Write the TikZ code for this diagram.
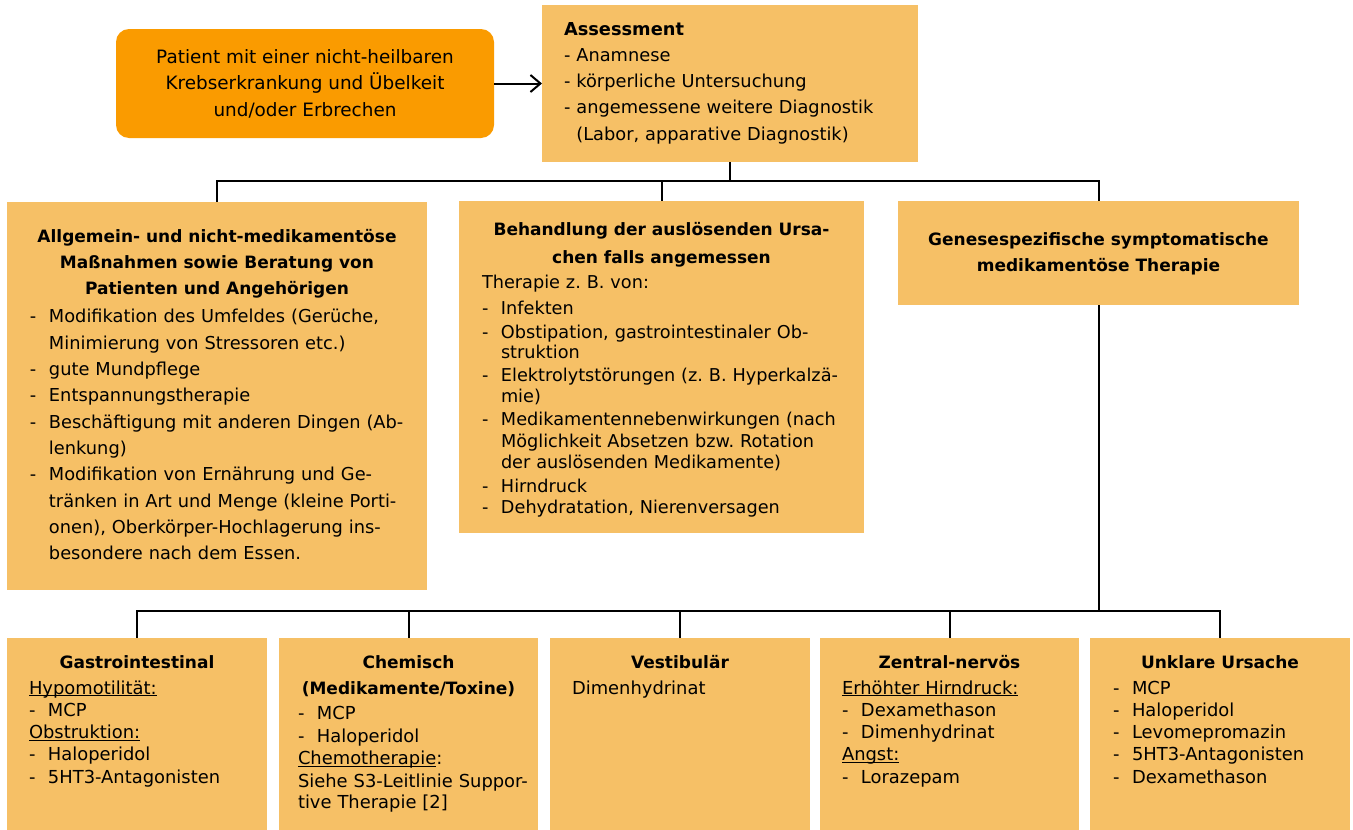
\documentclass[tikz,border=0pt]{standalone}
\usepackage{fontspec}
\setmainfont{DejaVu Sans}
\usepackage{tikz}
\usetikzlibrary{arrows.meta}
\definecolor{boxfill}{RGB}{246,192,102}
\definecolor{patientfill}{RGB}{250,155,0}
\frenchspacing

% title line, list item, continuation line, underlined heading
\newcommand{\ttl}[1]{\makebox[\linewidth][c]{\fontsize{17}{20}\selectfont\bfseries #1}}
\newcommand{\itm}[1]{\makebox[19pt][l]{-}\mbox{#1}}
\newcommand{\cnt}[1]{\hspace*{19pt}\mbox{#1}}
\newcommand{\ulx}[1]{\setbox0=\hbox{#1}\makebox[0pt][l]{\rule[-2.2pt]{\wd0}{0.9pt}}\box0}

\begin{document}
\begin{tikzpicture}[
    x=1pt, y=-1pt,
    cell/.style={fill=boxfill, inner ysep=0pt, outer sep=0pt, anchor=north west, align=left, font=\fontsize{17.8}{26.3}\selectfont},
    tight/.style={font=\fontsize{17.9}{22.3}\selectfont},
    bottom/.style={cell, tight, text height=30pt, text depth=162pt},
    start/.style={fill=patientfill, rounded corners=13pt, align=center, minimum width=378pt, minimum height=109pt, font=\fontsize{18.4}{26.4}\selectfont},
    link/.style={line width=2pt},
    arrow/.style={-{Straight Barb[length=10pt,width=17pt]}, line width=2pt}
]
    \useasboundingbox (0,0) rectangle (1353,830);

    % Start and assessment
    \node[start] (patient) at (305,83.5) {Patient mit einer nicht-heilbaren\\Krebserkrankung und Übelkeit\\und/oder Erbrechen};
    \node[cell, text width=332pt, inner xsep=22pt, text height=30pt, text depth=127pt] (assess) at (542,5) {%
        \textbf{Assessment}\\
        \mbox{- Anamnese}\\
        \mbox{- körperliche Untersuchung}\\
        \mbox{- angemessene weitere Diagnostik}\\
        \mbox{\hphantom{- }(Labor, apparative Diagnostik)}};
    \draw[arrow] (patient) -- (assess);

    % Three branches
    \node[cell, text width=374pt, inner xsep=23pt, text height=40pt, text depth=348pt] (care) at (7,202) {%
        \ttl{Allgemein- und nicht-medikamentöse}\\
        \ttl{Maßnahmen sowie Beratung von}\\
        \ttl{Patienten und Angehörigen}\\[2pt]
        \itm{Modifikation des Umfeldes (Gerüche,}\\
        \cnt{Minimierung von Stressoren etc.)}\\
        \itm{gute Mundpflege}\\
        \itm{Entspannungstherapie}\\
        \itm{Beschäftigung mit anderen Dingen (Ab-}\\
        \cnt{lenkung)}\\
        \itm{Modifikation von Ernährung und Ge-}\\
        \cnt{tränken in Art und Menge (kleine Porti-}\\
        \cnt{onen), Oberkörper-Hochlagerung ins-}\\
        \cnt{besondere nach dem Essen.}};
    \node[cell, font=\fontsize{17.7}{21.5}\selectfont, text width=359pt, inner xsep=23pt, text height=34pt, text depth=298pt] (cause) at (459,201) {%
        \ttl{Behandlung der auslösenden Ursa-}\\[6.5pt]
        \ttl{chen falls angemessen}\\[3.5pt]
        \mbox{Therapie z. B. von:}\\[4.5pt]
        \itm{Infekten}\\[2.5pt]
        \itm{Obstipation, gastrointestinaler Ob-}\\[-1.5pt]
        \cnt{struktion}\\[1.5pt]
        \itm{Elektrolytstörungen (z. B. Hyperkalzä-}\\[-0.5pt]
        \cnt{mie)}\\[1.5pt]
        \itm{Medikamentennebenwirkungen (nach}\\[0.5pt]
        \cnt{Möglichkeit Absetzen bzw. Rotation}\\[-0.5pt]
        \cnt{der auslösenden Medikamente)}\\[2.5pt]
        \itm{Hirndruck}\\[-0.5pt]
        \itm{Dehydratation, Nierenversagen}};
    \node[cell, text width=355pt, inner xsep=23pt, text height=44pt, text depth=60pt] (genese) at (898,201) {%
        \ttl{Genesespezifische symptomatische}\\
        \ttl{medikamentöse Therapie}};
    \draw[link] (assess.south) -- ++(0,19) -| (care.north);
    \draw[link] (assess.south) -- ++(0,19) -| (cause.north);
    \draw[link] (assess.south) -- ++(0,19) -| (genese.north);

    % Genesis-specific groups
    \node[bottom, text width=216pt, inner xsep=22pt] (gastro) at (7,638) {%
        \ttl{Gastrointestinal}\\[3.7pt]
        \ulx{Hypomotilität:}\\
        \itm{MCP}\\
        \ulx{Obstruktion:}\\
        \itm{Haloperidol}\\
        \itm{5HT3-Antagonisten}};
    \node[bottom, text width=221pt, inner xsep=19pt] (chem) at (279,638) {%
        \ttl{Chemisch}\\[3.7pt]
        \ttl{(Medikamente/Toxine)}\\[2.7pt]
        \itm{MCP}\\[0.7pt]
        \itm{Haloperidol}\\
        \ulx{Chemotherapie}:\\[0.7pt]
        \mbox{Siehe S3-Leitlinie Suppor-}\\[-1.3pt]
        \mbox{tive Therapie [2]}};
    \node[bottom, text width=216pt, inner xsep=22pt] (vest) at (550,638) {%
        \ttl{Vestibulär}\\[3.7pt]
        \mbox{Dimenhydrinat}};
    \node[bottom, text width=215pt, inner xsep=22pt] (zns) at (820,638) {%
        \ttl{Zentral-nervös}\\[3.7pt]
        \ulx{Erhöhter Hirndruck:}\\
        \itm{Dexamethason}\\
        \itm{Dimenhydrinat}\\
        \ulx{Angst:}\\
        \itm{Lorazepam}};
    \node[bottom, text width=214pt, inner xsep=23pt] (unclear) at (1090,638) {%
        \ttl{Unklare Ursache}\\[3.7pt]
        \itm{MCP}\\
        \itm{Haloperidol}\\
        \itm{Levomepromazin}\\
        \itm{5HT3-Antagonisten}\\
        \itm{Dexamethason}};
    \draw[link] (genese.south) -- ++(0,306) -| (gastro.north);
    \draw[link] (genese.south) -- ++(0,306) -| (chem.north);
    \draw[link] (genese.south) -- ++(0,306) -| (vest.north);
    \draw[link] (genese.south) -- ++(0,306) -| (zns.north);
    \draw[link] (genese.south) -- ++(0,306) -| (unclear.north);
\end{tikzpicture}
\end{document}
